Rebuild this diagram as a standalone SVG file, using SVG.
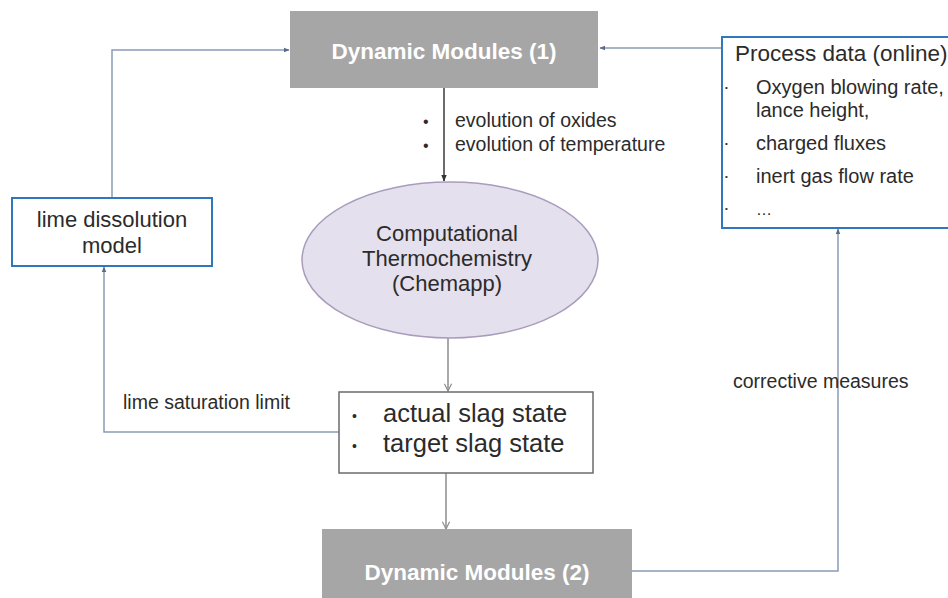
<svg xmlns="http://www.w3.org/2000/svg" width="948" height="598" viewBox="0 0 948 598">
  <style>
    text { font-family: "Liberation Sans", Arial, sans-serif; fill: #2b2b2b; }
    .dm rect { fill: #a6a6a6; }
    .dm text { fill: #ffffff; font-weight: bold; font-size: 22.5px; text-anchor: middle; }
    .blue { fill: #ffffff; stroke: #2f78be; stroke-width: 2; }
    .lbl { font-size: 19.5px; }
    .feed { fill: none; stroke: #8a9bb5; stroke-width: 1.5; }
    .flow { fill: none; stroke: #8c8c8c; stroke-width: 1.5; }
    .main { fill: none; stroke: #3a3a3a; stroke-width: 1.5; }
  </style>
  <defs>
    <marker id="triBlue" viewBox="0 0 10 10" refX="9" refY="5" markerWidth="6" markerHeight="6" orient="auto-start-reverse" markerUnits="userSpaceOnUse">
      <path d="M0,1 L10,5 L0,9 z" fill="#5a6b88"/>
    </marker>
    <marker id="triDark" viewBox="0 0 10 10" refX="9" refY="5" markerWidth="7" markerHeight="7" orient="auto" markerUnits="userSpaceOnUse">
      <path d="M0,1 L10,5 L0,9 z" fill="#333333"/>
    </marker>
    <marker id="vee" viewBox="0 0 10 10" refX="9" refY="5" markerWidth="9" markerHeight="9" orient="auto" markerUnits="userSpaceOnUse">
      <path d="M1,1 L9,5 L1,9" fill="none" stroke="#8c8c8c" stroke-width="1.3"/>
    </marker>
  </defs>

  <!-- connectors -->
  <g id="connectors">
    <path class="feed" d="M722,48 L600,48" marker-end="url(#triBlue)"/>
    <path class="feed" d="M112,198 L112,50 L289,50" marker-end="url(#triBlue)"/>
    <path class="main" d="M444,88 L444,181" marker-end="url(#triDark)"/>
    <path class="flow" d="M448,337 L448,391" marker-end="url(#vee)"/>
    <path class="flow" d="M446,473 L446,529" marker-end="url(#vee)"/>
    <path class="feed" d="M339,432 L104,432 L104,267" marker-end="url(#triBlue)"/>
    <path class="feed" d="M632,571 L838,571 L838,229" marker-end="url(#triBlue)"/>
    <text x="423" y="127" font-size="16">•</text>
    <text x="423" y="151" font-size="16">•</text>
    <text class="lbl" x="455" y="127">evolution of oxides</text>
    <text class="lbl" x="455" y="151">evolution of temperature</text>
    <text class="lbl" x="123" y="409" font-size="20">lime saturation limit</text>
    <text class="lbl" x="733" y="388">corrective measures</text>
  </g>

  <!-- upstream dynamic modules -->
  <g id="dm1" class="dm">
    <rect x="290" y="11" width="308" height="77"/>
    <text x="444" y="59">Dynamic Modules (1)</text>
  </g>

  <!-- online process data -->
  <g id="process-data">
    <rect class="blue" x="722" y="37" width="240" height="191"/>
    <text x="735" y="61" font-size="22.5">Process data (online)</text>
    <g font-size="20">
      <text x="725" y="90" font-size="8" fill="#555">•</text>
      <text x="756" y="94">Oxygen  blowing rate,</text>
      <text x="756" y="117">lance height,</text>
      <text x="725" y="146" font-size="8" fill="#555">•</text>
      <text x="756" y="150">charged fluxes</text>
      <text x="725" y="179" font-size="8" fill="#555">•</text>
      <text x="756" y="183">inert gas flow rate</text>
      <text x="725" y="211" font-size="8" fill="#555">•</text>
      <text x="756" y="215" font-size="16" fill="#3a5fa0">…</text>
    </g>
  </g>

  <!-- lime dissolution model -->
  <g id="lime-model">
    <rect class="blue" x="12" y="198" width="200" height="68"/>
    <text x="112" y="227" font-size="22" text-anchor="middle">lime dissolution</text>
    <text x="112" y="253" font-size="22" text-anchor="middle">model</text>
  </g>

  <!-- thermochemistry -->
  <g id="thermo">
    <ellipse cx="450" cy="260" rx="148" ry="78" fill="#e5e0ed" stroke="#a99cbd" stroke-width="1.5"/>
    <text x="447" y="241" font-size="22" text-anchor="middle">Computational</text>
    <text x="447" y="266" font-size="22" text-anchor="middle">Thermochemistry</text>
    <text x="447" y="291" font-size="22" text-anchor="middle">(Chemapp)</text>
  </g>

  <!-- slag state -->
  <g id="slag-state">
    <rect x="339" y="392" width="254" height="81" fill="#ffffff" stroke="#6b6b6b" stroke-width="1.5"/>
    <text x="352" y="421" font-size="14" fill="#999">•</text>
    <text x="383" y="422" font-size="25.5">actual slag state</text>
    <text x="352" y="451" font-size="14" fill="#999">•</text>
    <text x="383" y="452" font-size="25.5">target slag state</text>
  </g>

  <!-- downstream dynamic modules -->
  <g id="dm2" class="dm">
    <rect x="322" y="529" width="310" height="75"/>
    <text x="477" y="580">Dynamic Modules (2)</text>
  </g>
</svg>
